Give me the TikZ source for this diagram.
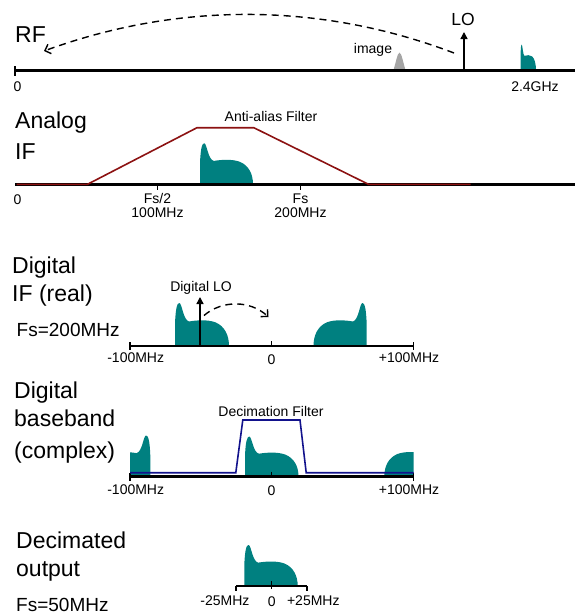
\documentclass[tikz,border=0pt]{standalone}
\usepackage{fontspec}
\setmainfont{Liberation Sans}
\usetikzlibrary{arrows.meta}
\definecolor{sigcol}{RGB}{0,128,128}
\definecolor{imgcol}{RGB}{165,165,165}
\definecolor{aacol}{RGB}{140,18,18}
\definecolor{deccol}{RGB}{18,18,140}
\tikzset{
  axis/.style={line width=2.5pt},
  tick/.style={line width=1.2pt},
  big/.style={font=\fontsize{23}{26}\selectfont,anchor=base west,inner sep=0pt},
  mid/.style={font=\fontsize{19}{22}\selectfont,anchor=base west,inner sep=0pt},
  small/.style={font=\fontsize{14}{16}\selectfont,anchor=base,inner sep=0pt},
  filt/.style={line width=1.6pt},
  dasharc/.style={line width=1.4pt,dash pattern=on 7pt off 5pt,-{Straight Barb[length=5pt,width=10pt]}},
  loarrow/.style={line width=1.4pt,-{Triangle[length=7pt,width=7pt]}}
}
% signal spectrum: base corner, width (negative = mirrored), height, colour
\newcommand{\sigshape}[5]{%
  \fill[#5,shift={(#1,#2)},xscale=#3,yscale=-#4] (0,0) -- (0,0.5)
    .. controls (0.01,0.88) and (0.04,1) .. (0.08,1)
    .. controls (0.13,1) and (0.15,0.6) .. (0.26,0.57)
    .. controls (0.4,0.6) and (0.6,0.62) .. (0.75,0.55)
    .. controls (0.92,0.46) and (1,0.25) .. (1,0) -- cycle;}
\begin{document}
\begin{tikzpicture}[x=1pt,y=-1pt]
\useasboundingbox (0,0) rectangle (575,616);

% RF
\node[big] (rf) at (15,42.7) {RF};
\fill[imgcol] (393.3,70.7) .. controls (396,62) and (397.5,52.7) .. (399.5,52.7)
  .. controls (401.5,52.7) and (403,62) .. (405.7,70.7) -- cycle;
\sigshape{520.5}{70.7}{15.5}{26}{sigcol}
\draw[axis] (15,70.7) -- (575,70.7);
\draw[tick] (15,66) -- (15,75.5);
\coordinate (lobase) at (464,70.7);
\coordinate (lotip) at (464,32);
\draw[loarrow] (lobase) -- (lotip);
\node[small,font=\fontsize{17.5}{20}\selectfont] (lo) at (463,25) {LO};
\node[small] (image) at (373,53.3) {image};
\coordinate (arcstart) at (454,53);
\coordinate (arcend) at (44,51);
\draw[dasharc] (arcstart) .. controls (320,2) and (178,2) .. (arcend);
\node[small] (rfzero) at (17.6,91.7) {0};
\node[small] (rfghz) at (535,91.7) {2.4GHz};

% Analog IF
\node[big] (analog) at (15,128.3) {Analog};
\node[big] (aif) at (15,159.3) {IF};
\sigshape{200}{184.3}{53}{41}{sigcol}
\draw[axis] (15,184.3) -- (575,184.3);
\foreach \x in {157.5,300.5}\draw[tick] (\x,184.3) -- (\x,189.5);
\draw[filt,aacol] (16.5,184.3) -- (87.5,184.3) -- (197,127.7) -- (253.8,127.7) -- (368.5,184.3) -- (470.5,184.3);
\node[small] (aafilter) at (271,121.7) {Anti-alias Filter};
\node[small] (ifzero) at (17.6,204.5) {0};
\node[small] (fshalf) at (157.5,203.3) {Fs/2};
\node[small] (fshalfmhz) at (157.5,217) {100MHz};
\node[small] (fs) at (300.5,203.3) {Fs};
\node[small] (fsmhz) at (300.5,217) {200MHz};

% Digital IF (real)
\node[big] (dig) at (12,273.3) {Digital};
\node[big] (difreal) at (12,301.7) {IF (real)};
\node[mid] (fstwo) at (16.5,336.7) {Fs=200MHz};
\sigshape{175}{346}{54}{43}{sigcol}
\sigshape{366.7}{346}{-53.2}{43}{sigcol}
\draw[axis,line width=2.2pt] (130,346) -- (413.6,346);
\foreach \x in {130,413.6}\draw[tick] (\x,342) -- (\x,350);
\draw[tick] (271.5,341) -- (271.5,346);
\coordinate (dlobase) at (200,346);
\coordinate (dlotip) at (200,297);
\draw[loarrow] (dlobase) -- (dlotip);
\node[small] (diglo) at (201,291.7) {Digital LO};
\coordinate (dlostart) at (204,315.5);
\coordinate (dloend) at (268.5,317);
\draw[dasharc] (dlostart) .. controls (222,300) and (250,300) .. (dloend);
\node[small] (difmin) at (135.7,362.7) {-100MHz};
\node[small] (difzero) at (271.5,364) {0};
\node[small] (difplus) at (409,362.7) {+100MHz};

% Digital baseband (complex)
\node[big] (dig2) at (14,398.3) {Digital};
\node[big] (bband) at (14,426.7) {baseband};
\node[big] (cplx) at (14,458.3) {(complex)};
\begin{scope}
  \clip (130,400) rectangle (413.6,480);
  \sigshape{150.3}{476.5}{-53}{41}{sigcol}
  \sigshape{437.3}{476.5}{-53}{41}{sigcol}
\end{scope}
\sigshape{245}{476.5}{53.5}{40}{sigcol}
\draw[axis,line width=2.2pt] (130,476.5) -- (413.6,476.5);
\foreach \x in {130,413.6}\draw[tick] (\x,472.5) -- (\x,480.5);
\draw[tick] (271.5,471.5) -- (271.5,476.5);
\draw[filt,deccol] (130,472.7) -- (235.8,472.7) -- (242.8,420) -- (300,420) -- (306.2,472.7) -- (413.6,472.7);
\node[small] (decfilter) at (271,416) {Decimation Filter};
\node[small] (bbmin) at (135.7,494.3) {-100MHz};
\node[small] (bbzero) at (271.5,495.5) {0};
\node[small] (bbplus) at (409,494.3) {+100MHz};

% Decimated output
\node[big] (decim) at (16,548.3) {Decimated};
\node[big] (output) at (16,576.7) {output};
\node[mid] (fsfifty) at (16,611.7) {Fs=50MHz};
\sigshape{244.3}{586}{53.4}{41}{sigcol}
\draw[axis,line width=2pt] (236,586) -- (307,586);
\foreach \x in {236,307}\draw[tick] (\x,586) -- (\x,590.5);
\draw[tick] (271.7,581) -- (271.7,589);
\node[small] (decmin) at (225,605) {-25MHz};
\node[small] (deczero) at (271.7,606.5) {0};
\node[small] (decplus) at (313.3,605) {+25MHz};
\end{tikzpicture}
\end{document}
